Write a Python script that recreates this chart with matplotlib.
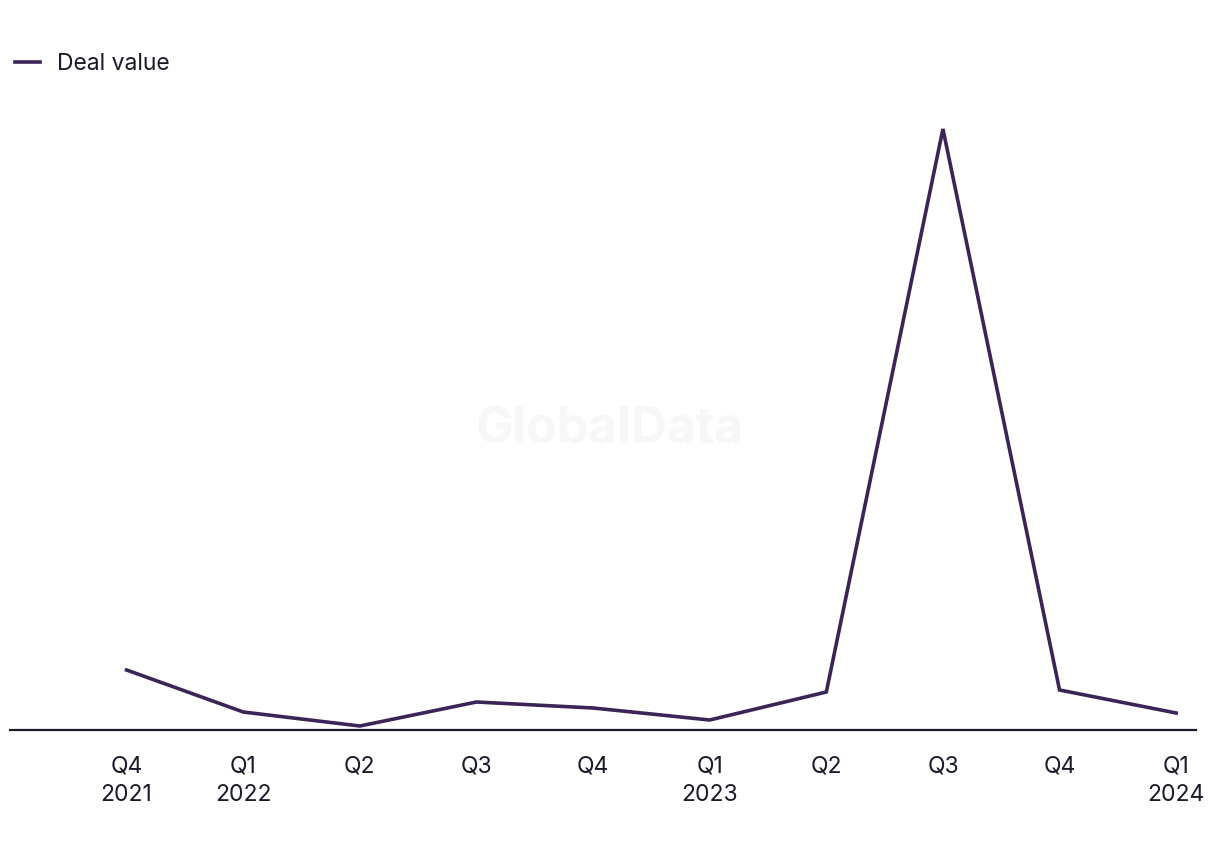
import matplotlib.pyplot as plt

# quarterly deal value (relative units)
quarters = ['Q4\n2021', 'Q1\n2022', 'Q2', 'Q3', 'Q4', 'Q1\n2023', 'Q2', 'Q3', 'Q4', 'Q1\n2024']
deal_value = [60, 18, 4, 28, 22, 10, 38, 601, 40, 17]

plt.rcParams['font.family'] = ['Inter', 'DejaVu Sans']

fig = plt.figure(figsize=(12.2, 8.5), dpi=100)
ax = fig.add_axes([10 / 1220, 120 / 850, 1186 / 1220, 630 / 850])

x = list(range(len(quarters)))
ax.plot(x, deal_value, color='#3a2556', linewidth=2.6, label='Deal value',
        solid_joinstyle='miter')

ax.set_xlim(-1.0, 9.17)
ax.set_ylim(0, 630)
ax.set_xticks(x)
ax.set_xticklabels(quarters, fontsize=16.5, color='#1c1a2a', linespacing=1.4)
ax.tick_params(axis='x', length=0, pad=18)
ax.set_yticks([])

for s in ['top', 'right', 'left']:
    ax.spines[s].set_visible(False)
ax.spines['bottom'].set_color('#1c1a2a')
ax.spines['bottom'].set_linewidth(1.6)

# watermark
fig.text(0.5, 0.5 - 5 / 850, 'GlobalData', ha='center', va='center', fontsize=36,
         fontweight='bold', color='#f7f7f7', zorder=0)

fig.legend(loc='upper left', bbox_to_anchor=(-0.005, 0.962), frameon=False,
           fontsize=16.5, handlelength=1.1, handletextpad=0.75,
           labelcolor='#1c1a2a')

fig.savefig('out.png', dpi=100, facecolor='white')
